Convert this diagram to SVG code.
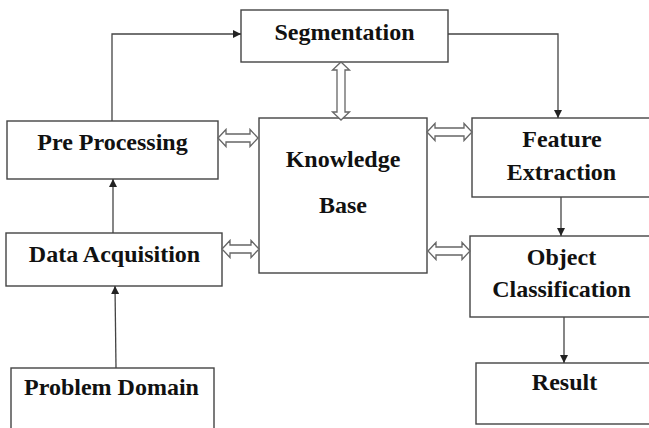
<svg xmlns="http://www.w3.org/2000/svg" width="649" height="428" viewBox="0 0 649 428">
<style>
.box{fill:#fff;stroke:#444;stroke-width:1.4}
text{font-family:'Liberation Serif','Times New Roman',Tinos,'Noto Serif','DejaVu Serif',FreeSerif,Georgia,serif;font-weight:700;font-size:24px;fill:#111;text-anchor:middle}
.ln{fill:none;stroke:#444;stroke-width:1.3}
.dbl{fill:#fff;stroke:#666;stroke-width:1.3;stroke-linejoin:miter}
</style>
<defs>
<marker id="ah" viewBox="0 0 10 10" refX="10" refY="5" markerWidth="8" markerHeight="8" markerUnits="userSpaceOnUse" orient="auto">
<path d="M0,0 L10,5 L0,10 Z" fill="#222"/>
</marker>
</defs>
<rect width="649" height="428" fill="#fff"/>
<g id="segmentation"><rect class="box" x="241" y="10" width="207" height="52"/><text x="344.5" y="40">Segmentation</text></g>
<g id="preprocessing"><rect class="box" x="7" y="121" width="211" height="58"/><text x="112.5" y="150">Pre Processing</text></g>
<g id="knowledgebase"><rect class="box" x="259" y="118" width="168" height="155"/><text x="343" y="167">Knowledge</text><text x="343" y="213">Base</text></g>
<g id="featureextraction"><rect class="box" x="472" y="118" width="190" height="79"/><text x="562" y="147">Feature</text><text x="561.5" y="180">Extraction</text></g>
<g id="dataacquisition"><rect class="box" x="6" y="233" width="216" height="53"/><text x="114.5" y="262">Data Acquisition</text></g>
<g id="objectclassification"><rect class="box" x="470" y="236" width="192" height="81"/><text x="561.5" y="265">Object</text><text x="561.5" y="297">Classification</text></g>
<g id="problemdomain"><rect class="box" x="11" y="368" width="203" height="80"/><text x="111.5" y="395">Problem Domain</text></g>
<g id="result"><rect class="box" x="476" y="363" width="186" height="61"/><text x="564.5" y="390">Result</text></g>
<g id="connectors">
<path class="ln" d="M112,121 V34 H241" marker-end="url(#ah)"/>
<path class="ln" d="M448,34 H558 V118" marker-end="url(#ah)"/>
<path class="ln" d="M561,197 V236" marker-end="url(#ah)"/>
<path class="ln" d="M564,317 V363" marker-end="url(#ah)"/>
<path class="ln" d="M113,233 V179" marker-end="url(#ah)"/>
<path class="ln" d="M116,368 L115,286" marker-end="url(#ah)"/>
<path class="dbl" d="M218,138 L226,129.5 L226,134 L250,134 L250,129.5 L258,138 L250,146.5 L250,142 L226,142 L226,146.5 Z"/>
<path class="dbl" d="M222,249 L230,240.5 L230,245 L251,245 L251,240.5 L259,249 L251,257.5 L251,253 L230,253 L230,257.5 Z"/>
<path class="dbl" d="M427,132 L435,123.5 L435,128 L464,128 L464,123.5 L472,132 L464,140.5 L464,136 L435,136 L435,140.5 Z"/>
<path class="dbl" d="M428,251 L436,242.5 L436,247 L462,247 L462,242.5 L470,251 L462,259.5 L462,255 L436,255 L436,259.5 Z"/>
<path class="dbl" d="M341,62 L349.5,70 L345,70 L345,112 L349.5,112 L341,120 L332.5,112 L337,112 L337,70 L332.5,70 Z"/>
</g>
</svg>
